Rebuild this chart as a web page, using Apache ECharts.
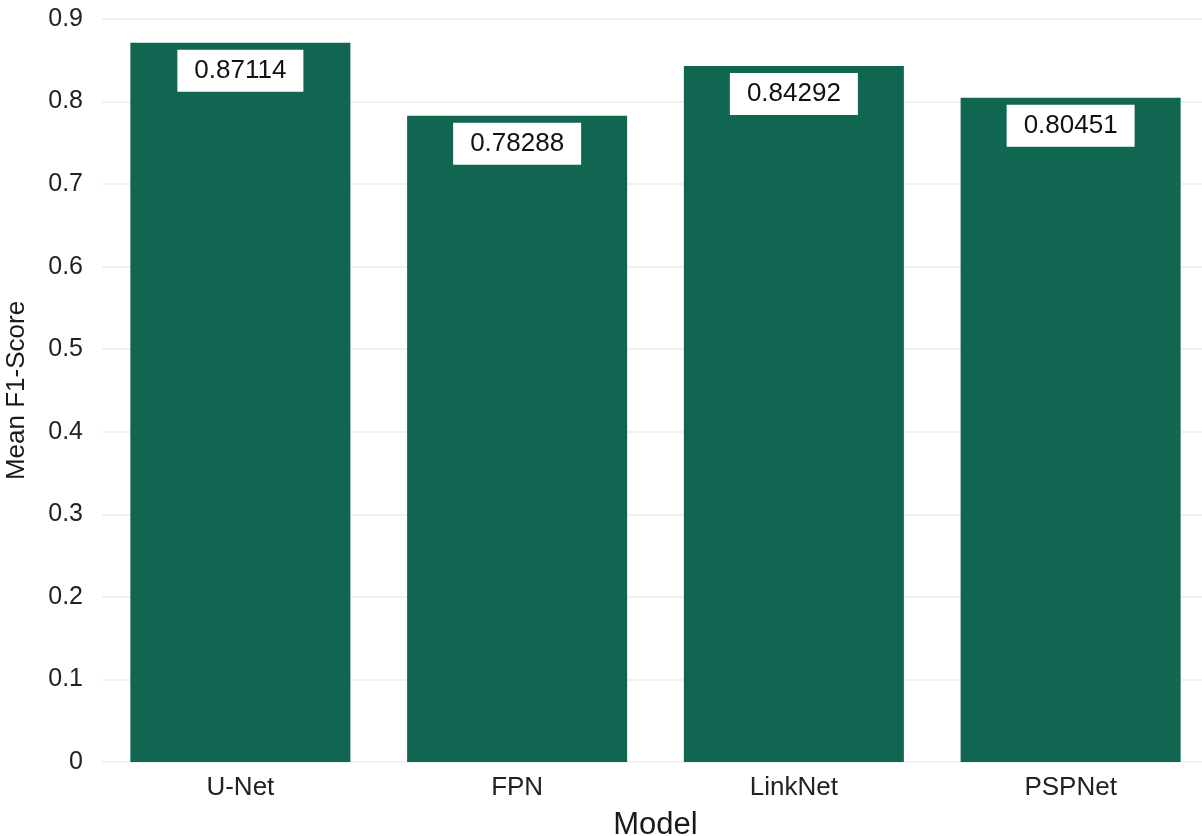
<!DOCTYPE html>
<html>
<head>
<meta charset="utf-8">
<title>Mean F1-Score by Model</title>
<script src="https://cdn.jsdelivr.net/npm/echarts@6/dist/echarts.min.js"></script>
<style>
  html, body { margin: 0; padding: 0; background: #ffffff; }
  #chart { width: 1202px; height: 836px; }
</style>
</head>
<body>
<div id="chart"></div>
<script>
// Segmentation models and their mean F1-scores
const models = ['U-Net', 'FPN', 'LinkNet', 'PSPNet'];
const meanF1 = [0.87114, 0.78288, 0.84292, 0.80451];
const yTicks = [0, 0.1, 0.2, 0.3, 0.4, 0.5, 0.6, 0.7, 0.8, 0.9];

const FONT = '"Liberation Sans", Arial, Helvetica, sans-serif';
const BAR = '#116652';

const chart = echarts.init(document.getElementById('chart'), null, { renderer: 'canvas' });

chart.setOption({
  backgroundColor: '#ffffff',
  animation: false,
  grid: {
    left: 102, top: 19, width: 1107, bottom: 74,
    containLabel: false,
    outerBoundsMode: 'none'
  },
  xAxis: {
    type: 'category',
    data: models,
    name: 'Model',
    nameLocation: 'middle',
    nameGap: 48,
    nameTextStyle: { fontFamily: FONT, fontSize: 31, color: '#1a1a1a' },
    axisLine: { show: false },
    axisTick: { show: false },
    axisLabel: { fontFamily: FONT, fontSize: 26, color: '#222222', margin: 13 },
    splitLine: { show: false }
  },
  yAxis: {
    type: 'value',
    min: yTicks[0],
    max: yTicks[yTicks.length - 1],
    interval: 0.1,
    name: 'Mean F1-Score',
    nameLocation: 'middle',
    nameGap: 72,
    nameTextStyle: { fontFamily: FONT, fontSize: 26, color: '#1a1a1a' },
    axisLine: { show: false },
    axisTick: { show: false },
    axisLabel: {
      fontFamily: FONT, fontSize: 25, color: '#222222', margin: 19,
      formatter: v => String(Math.round(v * 10) / 10)
    },
    splitLine: { show: true, lineStyle: { color: '#ececec', width: 1.5 } }
  },
  series: [{
    type: 'bar',
    data: meanF1,
    barCategoryGap: '20.5%',
    itemStyle: { color: BAR },
    label: {
      show: true,
      position: 'insideTop',
      distance: 7,
      formatter: p => p.value.toFixed(5),
      fontFamily: FONT,
      fontSize: 26,
      color: '#111111',
      backgroundColor: '#ffffff',
      padding: [8, 17, 8, 17]
    }
  }]
});
</script>
</body>
</html>
